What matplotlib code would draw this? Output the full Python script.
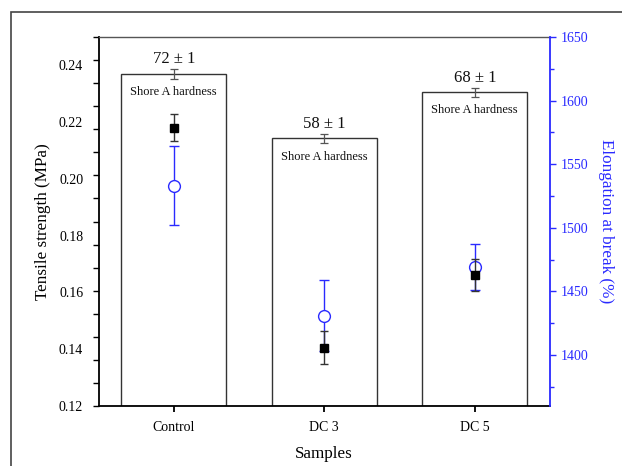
"""Shore A hardness (bars), tensile strength and elongation at break per sample."""
import matplotlib.pyplot as plt
from matplotlib.patches import Rectangle
from matplotlib.ticker import MultipleLocator

plt.rcParams["font.family"] = ["Liberation Serif", "DejaVu Serif"]

SAMPLES = ["Control", "DC 3", "DC 5"]
HARDNESS = [72, 58, 68]
HARDNESS_ERR = [1, 1, 1]
TENSILE = [0.218, 0.1406, 0.1662]
TENSILE_ERR = [0.0047, 0.0059, 0.0056]
ELONGATION = [1533, 1431, 1469]
ELONGATION_ERR = [31, 28, 18]

BLUE = "#2a2aff"
DARK = "#333333"


def main():
    fig = plt.figure(figsize=(6.22, 4.66), dpi=100)
    rect = [98.5 / 622, 1 - 406 / 466, (550 - 98.5) / 622, (406 - 37) / 466]

    # outer frame (only left/top edges fall inside the canvas)
    fig.patches.append(Rectangle((11 / 622, -0.1), 1.2, 1.1 - 12 / 466,
                                 transform=fig.transFigure, fill=False,
                                 ec="#444444", lw=1.2))

    x = list(range(len(SAMPLES)))

    # hardness layer: bars on a 0-80 scale, provides the left tick marks
    axh = fig.add_axes(rect)
    axh.bar(x, HARDNESS, width=0.7, color="white", edgecolor=DARK, lw=1.0, zorder=2)
    axh.errorbar(x, HARDNESS, yerr=HARDNESS_ERR, fmt="none",
                 ecolor="#555555", elinewidth=0.9, capsize=3, capthick=0.9, zorder=3)
    for xi, h, e in zip(x, HARDNESS, HARDNESS_ERR):
        axh.annotate(f"{h} ± {e}", xy=(xi, h + e), xytext=(0, 1.5),
                     textcoords="offset points", ha="center", va="bottom",
                     fontsize=12, color="#111111")
        axh.annotate("Shore A hardness", xy=(xi, h), xytext=(0, -13),
                     textcoords="offset points", ha="center", va="center",
                     fontsize=9, color="#111111")
    axh.set_xlim(-0.5, 2.5)
    axh.set_ylim(0, 80)
    axh.yaxis.set_major_locator(MultipleLocator(5))
    axh.tick_params(axis="y", left=True, labelleft=False, length=4.5, width=1.0,
                    direction="out")
    axh.set_xticks(x)
    axh.set_xticklabels(SAMPLES, fontsize=10)
    axh.tick_params(axis="x", length=4.5, width=1.3, direction="out", pad=6)
    axh.set_xlabel("Samples", fontsize=12.3, labelpad=9)
    axh.spines["top"].set_color("#555555")
    axh.spines["right"].set_visible(False)
    for s in ("left", "bottom"):
        axh.spines[s].set_linewidth(1.3)
    axh.spines["top"].set_linewidth(1.0)

    # elongation at break on the right axis
    axe = fig.add_axes(rect, sharex=axh)
    axe.patch.set_visible(False)
    axe.errorbar(x, ELONGATION, yerr=ELONGATION_ERR, fmt="o", ms=8.5, mfc="white",
                 mec=BLUE, mew=1.0, ecolor=BLUE, elinewidth=1.0, capsize=3.5,
                 capthick=1.0, zorder=3)
    axe.set_ylim(1360, 1650)
    axe.yaxis.tick_right()
    axe.yaxis.set_label_position("right")
    axe.yaxis.set_major_locator(MultipleLocator(50))
    axe.yaxis.set_minor_locator(MultipleLocator(25))
    axe.tick_params(axis="y", which="both", colors=BLUE, labelsize=10, width=1.0)
    axe.tick_params(axis="y", which="major", length=4.5)
    axe.tick_params(axis="y", which="minor", length=3)
    axe.tick_params(axis="x", bottom=False, labelbottom=False)
    for s in ("left", "top", "bottom"):
        axe.spines[s].set_visible(False)
    axe.spines["right"].set_color(BLUE)
    axe.spines["right"].set_linewidth(1.3)
    axe.set_ylabel("Elongation at break (%)", color=BLUE, fontsize=12.3,
                   rotation=270, labelpad=18)

    # tensile strength on the left axis (labels only, marks come from hardness layer)
    axt = fig.add_axes(rect, sharex=axh)
    axt.patch.set_visible(False)
    axt.errorbar(x, TENSILE, yerr=TENSILE_ERR, fmt="s", ms=5.8, mfc="black",
                 mec="black", ecolor="#333333", elinewidth=1.0, capsize=3,
                 capthick=1.0, zorder=4)
    axt.set_ylim(0.12, 0.25)
    axt.set_yticks([0.12, 0.14, 0.16, 0.18, 0.20, 0.22, 0.24])
    axt.set_yticklabels(["0.12", "0.14", "0.16", "0.18", "0.20", "0.22", "0.24"])
    axt.tick_params(axis="y", length=0, labelsize=10, pad=11)
    axt.tick_params(axis="x", bottom=False, labelbottom=False)
    for s in axt.spines.values():
        s.set_visible(False)
    axt.set_ylabel("Tensile strength (MPa)", fontsize=12.3, labelpad=6)

    fig.savefig("out.png", dpi=100)


if __name__ == "__main__":
    main()
